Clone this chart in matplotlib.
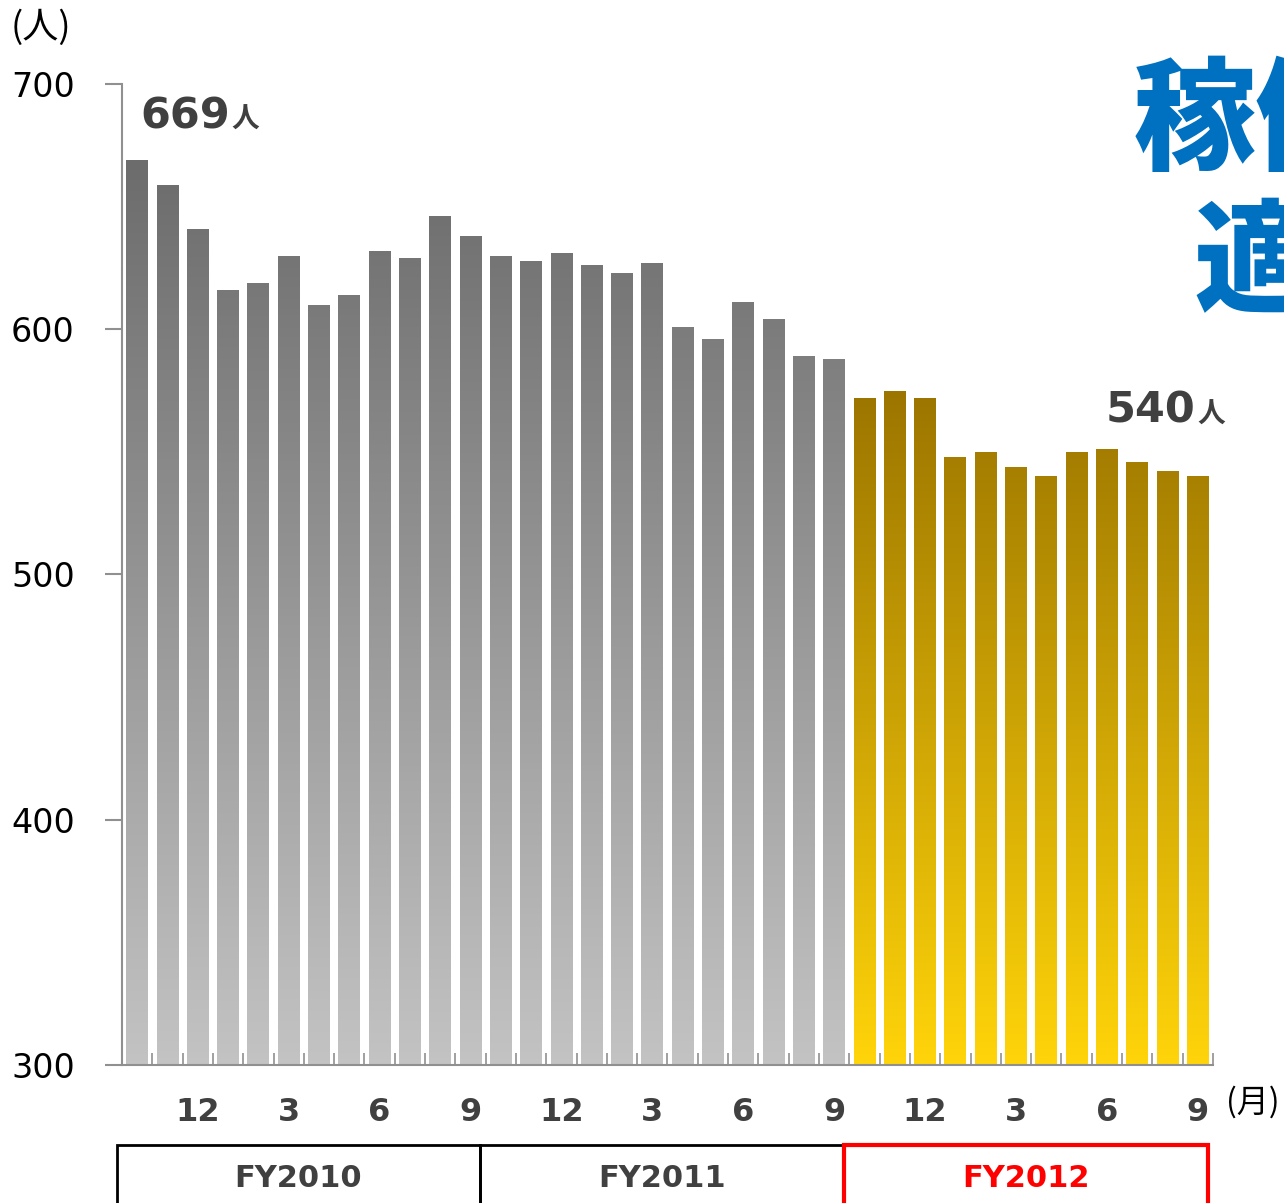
import numpy as np
import matplotlib
matplotlib.use('Agg')
import matplotlib.pyplot as plt
from matplotlib.colors import LinearSegmentedColormap, Normalize
from matplotlib.patches import Rectangle
import matplotlib.transforms as mtransforms

plt.rcParams['font.family'] = ['DejaVu Sans', 'Noto Sans CJK JP']

# 月次データ (FY2010/10 ～ FY2012/9)
values_fy2010 = [669, 659, 641, 616, 619, 630, 610, 614, 632, 629, 646, 638]
values_fy2011 = [630, 628, 631, 626, 623, 627, 601, 596, 611, 604, 589, 588]
values_fy2012 = [572, 575, 572, 548, 550, 544, 540, 550, 551, 546, 542, 540]
month_labels = ['', '', '12', '', '', '3', '', '', '6', '', '', '9']
fy_labels = ['FY2010', 'FY2011', 'FY2012']

values = values_fy2010 + values_fy2011 + values_fy2012
n = len(values)
x = np.arange(n)

fig = plt.figure(figsize=(12.84, 12.03), dpi=100)
ax = fig.add_axes([0.095, 0.1147, 0.8497, 0.8155])

gray_cmap = LinearSegmentedColormap.from_list('g', ['#c3c3c3', '#6c6c6c'])
gold_cmap = LinearSegmentedColormap.from_list('y', ['#ffd40a', '#9c7500'])

bars = ax.bar(x, values, width=0.72, bottom=0, facecolor='none', edgecolor='none')
ymin = 300
for i, b in enumerate(bars):
    v = values[i]
    if i < 24:
        cmap, norm = gray_cmap, Normalize(ymin, 669)
    else:
        cmap, norm = gold_cmap, Normalize(ymin, 575)
    grad = np.linspace(ymin, v, 256).reshape(-1, 1)
    im = ax.imshow(grad, cmap=cmap, norm=norm, origin='lower', aspect='auto',
                   extent=[x[i] - 0.36, x[i] + 0.36, ymin, v], zorder=2)
    im.set_clip_path(b)

ax.set_xlim(-0.5, n - 0.5)
ax.set_ylim(300, 700)

for s in ['top', 'right']:
    ax.spines[s].set_visible(False)
ax.spines['left'].set_color('#909090')
ax.spines['bottom'].set_color('#909090')
ax.spines['left'].set_linewidth(1.5)
ax.spines['bottom'].set_linewidth(1.5)

ax.set_yticks([300, 400, 500, 600, 700])
ax.tick_params(axis='y', length=12, width=1.5, color='#909090', labelsize=24,
               labelcolor='black', pad=22)

# x: boundary ticks, labels at month positions
ax.set_xticks(np.arange(-0.5, n, 1.0), minor=True)
ax.tick_params(axis='x', which='minor', direction='in', length=9, width=1.2, color='#909090')
ax.set_xticks(x)
ax.set_xticklabels(month_labels * 3, fontsize=23, fontweight='bold', color='#404040')
ax.tick_params(axis='x', which='major', length=0, pad=23)

fig.text(11 / 1284, 1 - 28 / 1203, '(人)', fontsize=26, va='center', ha='left',
         family=['Noto Sans CJK JP'])
fig.text(1226 / 1284, 1 - 1102 / 1203, '(月)', fontsize=23, va='center', ha='left',
         family=['Noto Sans CJK JP'])

# first / last value labels
ax.text(3.07, 682, str(values[0]), fontsize=31, fontweight='bold', color='#404040',
        ha='right', va='baseline')
ax.text(3.12, 682, '人', fontsize=20, fontweight='bold', color='#404040',
        ha='left', va='baseline', family=['Noto Sans CJK JP'])
ax.text(34.92, 562, str(values[-1]), fontsize=31, fontweight='bold', color='#404040',
        ha='right', va='baseline')
ax.text(34.97, 562, '人', fontsize=20, fontweight='bold', color='#404040',
        ha='left', va='baseline', family=['Noto Sans CJK JP'])

# FY boxes
trans = mtransforms.blended_transform_factory(ax.transData, ax.transAxes)
box_cols = ['black', 'black', 'red']
box_lw = [2, 2, 3]
for k in range(3):
    r = Rectangle((k * 12 - 0.68, -0.25), 12, 0.168, transform=trans,
                  fill=False, edgecolor=box_cols[k], linewidth=box_lw[k], clip_on=False,
                  zorder=3 if k == 2 else 2)
    ax.add_patch(r)
    ax.text(k * 12 + 5.5 - 0.18, -0.1155, fy_labels[k], transform=trans, fontsize=22,
            fontweight='bold', color='#404040' if k < 2 else 'red', ha='center', va='center')

# title (cut off at right edge, as in the original slide)
fig.text(1134 / 1284, 1 - 124 / 1203, '稼働人数', fontsize=88, fontweight='black',
         color='#0070c0', ha='left', va='center', family=['Noto Sans CJK JP'])
fig.text(1193 / 1284, 1 - 266 / 1203, '適正化', fontsize=88, fontweight='black',
         color='#0070c0', ha='left', va='center', family=['Noto Sans CJK JP'])

fig.savefig('out.png', dpi=100)
